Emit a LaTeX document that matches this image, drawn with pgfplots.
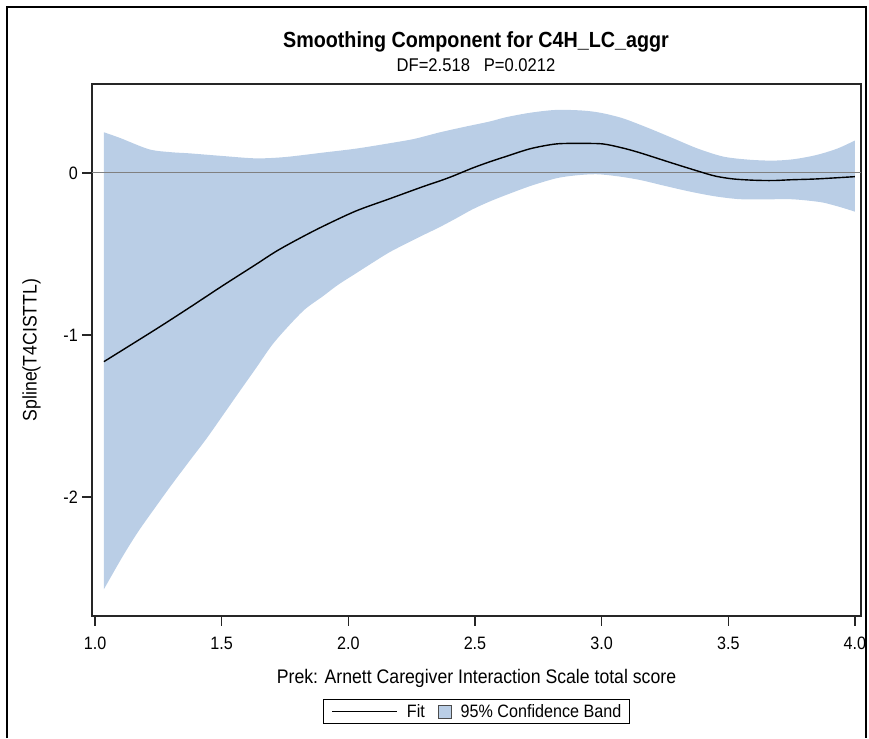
\documentclass[border=0pt]{standalone}
\usepackage{fontspec}
\setmainfont{Liberation Sans}[FakeStretch=0.9]
\usepackage{pgfplots}
\usepackage{pgfplotstable}
\pgfplotsset{compat=1.18}
\usepgfplotslibrary{fillbetween}

\definecolor{bandblue}{RGB}{186,206,230}

% Fitted smoothing component
\pgfplotstableread{
x y
1.035 -1.165
1.24 -0.965
1.372 -0.832
1.503 -0.697
1.635 -0.565
1.714 -0.485
1.80 -0.41
1.898 -0.331
2.03 -0.235
2.162 -0.160
2.294 -0.085
2.36 -0.050
2.412 -0.020
2.49 0.030
2.557 0.068
2.623 0.102
2.72 0.15
2.821 0.179
2.92 0.182
3.005 0.179
3.08 0.155
3.15 0.125
3.28 0.06
3.387 0.008
3.45 -0.02
3.519 -0.037
3.60 -0.045
3.677 -0.047
3.75 -0.042
3.849 -0.037
4.0 -0.023
}\fitdata

% Upper limit of the 95% confidence band
\pgfplotstableread{
x y
1.035 0.251
1.10 0.215
1.213 0.146
1.30 0.128
1.372 0.121
1.5 0.105
1.635 0.09
1.75 0.098
1.897 0.125
2.03 0.15
2.162 0.183
2.26 0.21
2.36 0.25
2.46 0.285
2.557 0.317
2.623 0.344
2.72 0.372
2.821 0.389
2.926 0.385
3.00 0.37
3.084 0.337
3.18 0.28
3.282 0.214
3.38 0.15
3.48 0.101
3.58 0.082
3.677 0.076
3.76 0.085
3.849 0.111
3.93 0.15
4.0 0.2
}\upperdata

% Lower limit of the 95% confidence band
\pgfplotstableread{
x y
1.035 -2.57
1.108 -2.37
1.17 -2.215
1.24 -2.06
1.30 -1.93
1.372 -1.78
1.44 -1.64
1.503 -1.50
1.57 -1.35
1.635 -1.206
1.70 -1.06
1.767 -0.94
1.83 -0.84
1.898 -0.763
1.96 -0.69
2.03 -0.62
2.10 -0.55
2.162 -0.49
2.23 -0.435
2.294 -0.385
2.36 -0.335
2.426 -0.28
2.49 -0.225
2.557 -0.177
2.623 -0.136
2.72 -0.08
2.821 -0.033
2.9 -0.015
2.979 -0.008
3.06 -0.02
3.15 -0.043
3.25 -0.08
3.348 -0.115
3.45 -0.145
3.545 -0.162
3.65 -0.163
3.743 -0.162
3.81 -0.17
3.874 -0.183
3.94 -0.21
4.0 -0.239
}\lowerdata

\begin{document}
\begin{tikzpicture}
% page: 869 x 738 bp, origin at the lower left
\path (0bp,0bp) rectangle (869bp,738bp);
\draw[line width=1.5bp] (7bp,0bp) -- (7bp,731bp) -- (866bp,731bp) -- (866bp,0bp);

\node[font=\fontsize{22}{26}\selectfont\bfseries, anchor=base, inner sep=0pt]
  at (476bp,690bp) {Smoothing Component for C4H\_LC\_aggr};
\node[font=\fontsize{18.5}{22}\selectfont, anchor=base, inner sep=0pt]
  at (476bp,666bp) {DF=2.518\ \ \ P=0.0212};

\begin{axis}[
  at={(92bp,122bp)}, anchor=south west,
  scale only axis, width=769bp, height=532bp,
  xmin=0.988, xmax=4.024, ymin=-2.735, ymax=0.549,
  axis line style={black!85, line width=1.2bp},
  tick style={black!85, line width=1.2bp},
  tick align=outside, major tick length=10bp, tick pos=left,
  xtick={1,1.5,2,2.5,3,3.5,4}, ytick={-2,-1,0},
  /pgf/number format/assume math mode=true,
  xticklabel style={font=\fontsize{18}{21}\selectfont, inner sep=0pt, anchor=north, yshift=-11bp,
    /pgf/number format/fixed, /pgf/number format/fixed zerofill, /pgf/number format/precision=1},
  yticklabel style={font=\fontsize{18}{21}\selectfont, inner sep=0pt, anchor=east, xshift=-4bp},
  xlabel={Prek: Arnett Caregiver Interaction Scale total score},
  xlabel style={font=\fontsize{19.7}{23}\selectfont, at={(axis description cs:0.5,0)}, anchor=base, yshift=-68bp, inner sep=0pt},
  ylabel={Spline(T4CISTTL)},
  ylabel style={font=\fontsize{19.7}{23}\selectfont, at={(axis description cs:-0.0787,0.5)}, anchor=center, inner sep=0pt},
  legend columns=2,
  legend style={at={(axis description cs:0.5,-0.156)}, anchor=north, draw=black, line width=1bp, fill=white,
    font=\fontsize{18}{21}\selectfont, inner xsep=8bp, inner ysep=5bp,
    nodes={inner sep=0pt},
    /tikz/every odd column/.style={column sep=9bp},
    /tikz/every even column/.style={column sep=13bp}},
]
\addplot[name path=up, draw=none, smooth, forget plot] table {\upperdata};
\addplot[name path=lo, draw=none, smooth, forget plot] table {\lowerdata};
\addplot[bandblue, forget plot] fill between[of=up and lo];
\addplot[gray, line width=1bp, forget plot] coordinates {(0.988,0) (4.024,0)};
\addplot[black, line width=1.4bp, smooth, forget plot] table {\fitdata};

\addlegendimage{legend image code/.code={\draw[black, line width=1.3bp] (0bp,0bp) -- (65bp,0bp);}}
\addlegendentry{Fit}
\addlegendimage{legend image code/.code={\draw[fill=bandblue, draw=black!70, line width=0.8bp] (0bp,-6.5bp) rectangle (13bp,6.5bp);}}
\addlegendentry{95\% Confidence Band}
\end{axis}
\end{tikzpicture}
\end{document}
